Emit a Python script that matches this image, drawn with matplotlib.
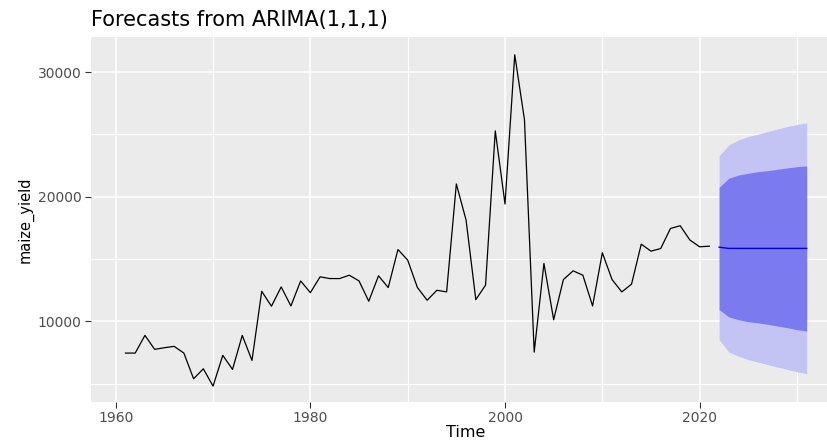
import numpy as np
import matplotlib
matplotlib.use("Agg")
from matplotlib import pyplot as plt
from matplotlib.ticker import MultipleLocator

years = list(range(1961, 2022))
maize_yield = [7450, 7450, 8870, 7750, 7880, 7990, 7450, 5390, 6190, 4800,
               7270, 6140, 8870, 6860, 12410, 11210, 12760, 11230, 13240, 12300,
               13570, 13430, 13430, 13700, 13240, 11610, 13650, 12710, 15760, 14910,
               12710, 11690, 12490, 12360, 21020, 18120, 11740, 12900, 25280, 19410,
               31390, 26170, 7530, 14640, 10130, 13350, 14050, 13700, 11230, 15500,
               13350, 12360, 12980, 16190, 15630, 15840, 17450, 17670, 16520, 15980,
               16030]

# forecast 2022-2031
fc_years = list(range(2022, 2032))
fc_mean = [15950, 15850, 15850, 15850, 15850, 15850, 15850, 15850, 15850, 15850]
lo80 = [10940, 10350, 10130, 9970, 9870, 9760, 9620, 9490, 9330, 9220]
hi80 = [20750, 21480, 21740, 21880, 22010, 22090, 22200, 22310, 22410, 22470]
lo95 = [8530, 7530, 7190, 6920, 6730, 6520, 6330, 6140, 5950, 5790]
hi95 = [23270, 24160, 24560, 24830, 25010, 25230, 25440, 25630, 25790, 25930]

plt.rcParams['font.family'] = ['DejaVu Sans']

fig = plt.figure(figsize=(8.28, 4.42), dpi=100)
# panel runs past the right edge, as in the cropped original
ax = fig.add_axes([0.1104, 0.0912, 0.905, 0.8244])
ax.set_facecolor('#EBEBEB')
for s in ax.spines.values():
    s.set_visible(False)

ax.fill_between(fc_years, lo95, hi95, color='#C4C4F4', lw=0, zorder=2)
ax.fill_between(fc_years, lo80, hi80, color='#7B7BEF', lw=0, zorder=3)
ax.plot(fc_years, fc_mean, color='#0000E0', lw=1.0, zorder=4)
ax.plot(years, maize_yield, color='black', lw=0.9, zorder=4)

ax.set_xlim(1957.5, 2034.5)
ax.set_ylim(3550, 32790)
ax.xaxis.set_major_locator(MultipleLocator(20))
ax.xaxis.set_minor_locator(MultipleLocator(10))
ax.yaxis.set_major_locator(MultipleLocator(10000))
ax.yaxis.set_minor_locator(MultipleLocator(5000))
ax.grid(which='major', color='white', lw=1.1, zorder=1)
ax.grid(which='minor', color='white', lw=0.8, zorder=1)
ax.set_axisbelow(True)
ax.tick_params(which='major', length=4, width=0.8, color='#333333',
               labelcolor='#4D4D4D', labelsize=10, pad=3)
ax.tick_params(which='minor', length=0)

ax.set_xlabel('Time', fontsize=11.5, labelpad=0)
ax.set_ylabel('maize_yield', fontsize=10.5, labelpad=3)
ax.set_title('Forecasts from ARIMA(1,1,1)', fontsize=15, loc='left', pad=8, x=0.0)

fig.savefig('out.png', dpi=100)
